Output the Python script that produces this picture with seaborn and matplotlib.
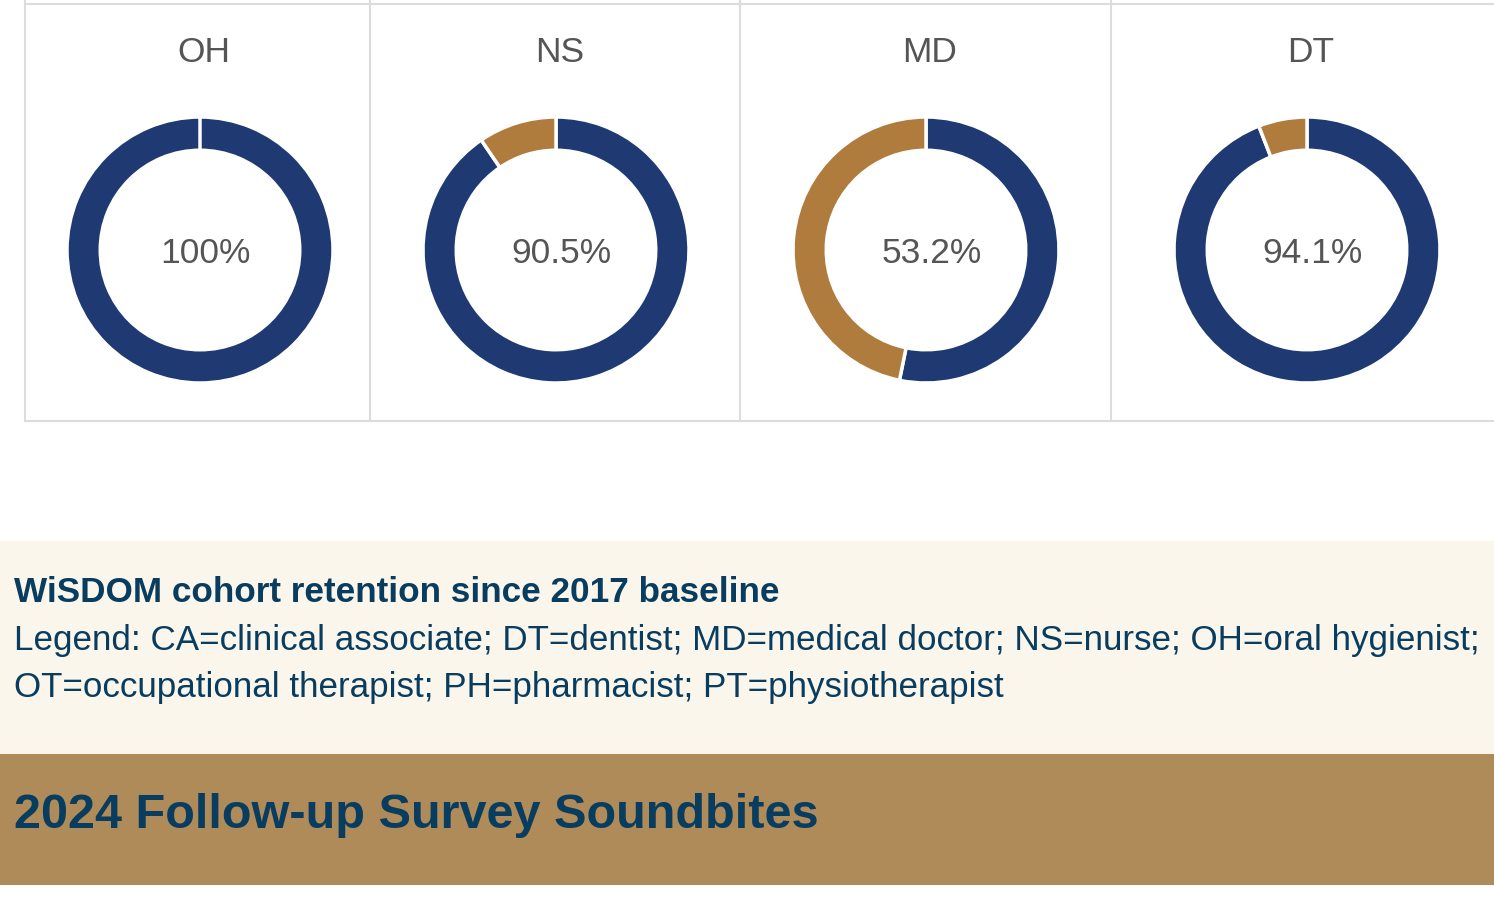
import matplotlib
matplotlib.use("Agg")
import matplotlib.pyplot as plt
import seaborn as sns
from matplotlib.patches import Rectangle
from matplotlib.lines import Line2D

# retention per profession (percent still in cohort)
professions = ["OH", "NS", "MD", "DT"]
retained = [100.0, 90.5, 53.2, 94.1]
pct_labels = ["100%", "90.5%", "53.2%", "94.1%"]

title = "WiSDOM cohort retention since 2017 baseline"
legend_lines = [
    "Legend: CA=clinical associate; DT=dentist; MD=medical doctor; NS=nurse; OH=oral hygienist;",
    "OT=occupational therapist; PH=pharmacist; PT=physiotherapist",
]
banner = "2024 Follow-up Survey Soundbites"

navy = "#1f3a72"
gold = "#b07c3e"
ink = "#083d5f"
grey_txt = "#555555"

sns.set_theme(style="white")
plt.rcParams["font.family"] = ["Liberation Sans", "DejaVu Sans"]

W, H = 1494, 905
fig = plt.figure(figsize=(W / 100, H / 100), dpi=100)
fig.patch.set_facecolor("white")


def fx(x):
    return x / W


def fy(y):
    return 1 - y / H


# panel grid lines
grid_col = "#dcdcdc"
fig.add_artist(Line2D([fx(25), 1], [fy(4), fy(4)], color=grid_col, lw=1.5))
fig.add_artist(Line2D([fx(25), 1], [fy(421), fy(421)], color=grid_col, lw=1.5))
for x in [25, 370, 740, 1111]:
    fig.add_artist(Line2D([fx(x), fx(x)], [fy(0), fy(421)], color=grid_col, lw=1.5))

centers = [200, 556, 926, 1307]
title_x = [204, 560, 930, 1311]
r = 133
for i, prof in enumerate(professions):
    cx, cy = centers[i], 250
    ax = fig.add_axes([fx(cx - r), fy(cy + r), 2 * r / W, 2 * r / H])
    vals = [retained[i], 100 - retained[i]]
    ax.pie(vals, colors=[navy, gold], startangle=90, counterclock=False, radius=1,
           wedgeprops=dict(width=0.25, edgecolor="white", linewidth=2.5))
    ax.set_xlim(-1, 1)
    ax.set_ylim(-1, 1)
    ax.axis("off")
    ax.text(0.04, -0.03, pct_labels[i], ha="center", va="center", fontsize=25.5, color=grey_txt)
    fig.text(fx(title_x[i]), fy(52), prof, ha="center", va="center", fontsize=25.5, color=grey_txt)

# cream caption band
fig.add_artist(Rectangle((0, fy(754)), 1, (754 - 541) / H, transform=fig.transFigure,
                         facecolor="#faf6ec", edgecolor="none", zorder=0))
# gold banner
fig.add_artist(Rectangle((0, fy(885)), 1, (885 - 754) / H, transform=fig.transFigure,
                         facecolor="#b08b5a", edgecolor="none", zorder=0))

fig.text(fx(14), fy(602), title, ha="left", va="baseline", fontsize=25.3,
         fontweight="bold", color=ink)
fig.text(fx(14), fy(650), legend_lines[0], ha="left", va="baseline", fontsize=25.2, color=ink)
fig.text(fx(14), fy(697), legend_lines[1], ha="left", va="baseline", fontsize=25.2, color=ink)
fig.text(fx(14), fy(828), banner, ha="left", va="baseline", fontsize=35,
         fontweight="bold", color=ink)

fig.savefig("out.png", dpi=100)
